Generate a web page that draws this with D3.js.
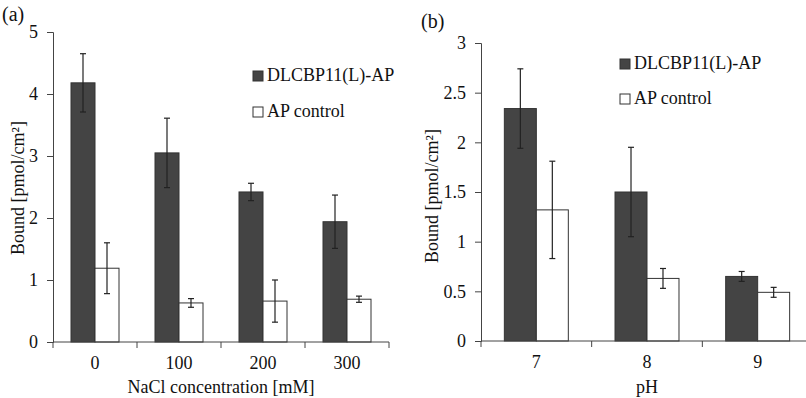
<!DOCTYPE html>
<html>
<head>
<meta charset="utf-8">
<script src="https://cdn.jsdelivr.net/npm/d3@7"></script>
<style>
  body { margin: 0; background: #fff; }
  svg text { font-family: "Liberation Serif", "DejaVu Serif", serif !important; fill: #111; }
</style>
</head>
<body>
<svg id="chart" width="806" height="398" font-family="Liberation Serif, serif"></svg>
<script>
// data
const series = ["DLCBP11(L)-AP", "AP control"];

const naclCats = ["0", "100", "200", "300"];
const naclDark = [4.18, 3.05, 2.42, 1.94];
const naclDarkErr = [0.47, 0.56, 0.14, 0.43];
const naclWhite = [1.19, 0.63, 0.66, 0.69];
const naclWhiteErr = [0.41, 0.07, 0.34, 0.05];
const naclTicks = [0, 1, 2, 3, 4, 5];

const phCats = ["7", "8", "9"];
const phDark = [2.34, 1.50, 0.65];
const phDarkErr = [0.40, 0.45, 0.05];
const phWhite = [1.32, 0.63, 0.49];
const phWhiteErr = [0.49, 0.10, 0.05];
const phTicks = [0, 0.5, 1, 1.5, 2, 2.5, 3];

const colors = ["#444", "#fff"];
const FONT = "Liberation Serif, serif";

const svg = d3.select("#chart");

function panel(opt) {
  const g = svg.append("g");

  const x0 = d3.scaleBand().domain(opt.cats).range([opt.left, opt.right]);
  const x1 = d3.scaleBand().domain(series).range([0, x0.bandwidth()]).paddingOuter(opt.pad);
  const y = d3.scaleLinear().domain([0, opt.ymax]).range([opt.bottom, opt.top]);

  const rows = opt.cats.map((c, i) => ({
    cat: c,
    vals: [
      { s: series[0], v: opt.dark[i], e: opt.darkErr[i] },
      { s: series[1], v: opt.white[i], e: opt.whiteErr[i] }
    ]
  }));

  // y axis
  const yAxis = g.append("g")
    .attr("transform", "translate(" + opt.left + ",0)")
    .call(d3.axisLeft(y).tickValues(opt.ticks).tickSize(6).tickPadding(9).tickFormat(d3.format("")));
  yAxis.attr("font-family", FONT);
  yAxis.select(".domain").attr("stroke", "#444");
  yAxis.selectAll(".tick line").attr("stroke", "#444");
  yAxis.selectAll("text").style("font-size", "18px").attr("fill", "#111");

  // bars
  const grp = g.selectAll(".cat").data(rows).enter().append("g")
    .attr("transform", d => "translate(" + x0(d.cat) + ",0)");

  grp.selectAll("rect").data(d => d.vals).enter().append("rect")
    .attr("x", d => x1(d.s))
    .attr("y", d => y(d.v))
    .attr("width", x1.bandwidth())
    .attr("height", d => y(0) - y(d.v))
    .attr("fill", (d, i) => colors[i])
    .attr("stroke", "#333")
    .attr("stroke-width", 1);

  // error bars
  const eb = grp.selectAll(".err").data(d => d.vals).enter().append("g");
  const cx = d => x1(d.s) + x1.bandwidth() / 2;
  eb.append("line")
    .attr("x1", cx).attr("x2", cx)
    .attr("y1", d => y(d.v + d.e)).attr("y2", d => y(d.v - d.e))
    .attr("stroke", "#222").attr("stroke-width", 1.2);
  [1, -1].forEach(sign => {
    eb.append("line")
      .attr("x1", d => cx(d) - 3).attr("x2", d => cx(d) + 3)
      .attr("y1", d => y(d.v + sign * d.e)).attr("y2", d => y(d.v + sign * d.e))
      .attr("stroke", "#222").attr("stroke-width", 1.2);
  });

  // x axis
  const xg = g.append("g").attr("transform", "translate(0," + opt.bottom + ")");
  xg.append("line")
    .attr("x1", opt.left).attr("x2", opt.right)
    .attr("stroke", "#444");
  const bounds = opt.cats.map(c => x0(c)).concat([opt.right]);
  xg.selectAll(".xt").data(bounds).enter().append("line")
    .attr("x1", d => d).attr("x2", d => d)
    .attr("y1", 0).attr("y2", 6)
    .attr("stroke", "#444");
  xg.selectAll(".xl").data(opt.cats).enter().append("text")
    .attr("x", d => x0(d) + x0.bandwidth() / 2)
    .attr("y", opt.labelY - opt.bottom)
    .attr("text-anchor", "middle")
    .attr("font-family", FONT)
    .style("font-size", "18px")
    .text(d => d);

  // titles
  g.append("text")
    .attr("x", (opt.left + opt.right) / 2)
    .attr("y", opt.titleY)
    .attr("text-anchor", "middle")
    .attr("font-family", FONT)
    .style("font-size", "18px")
    .text(opt.xTitle);

  g.append("text")
    .attr("transform", "translate(" + opt.yTitleX + "," + opt.yTitleY + ") rotate(-90)")
    .attr("text-anchor", "middle")
    .attr("font-family", FONT)
    .style("font-size", "18px")
    .text("Bound [pmol/cm²]");

  g.append("text")
    .attr("x", opt.tagX).attr("y", opt.tagY)
    .attr("font-family", FONT)
    .style("font-size", "20px")
    .text(opt.tag);

  // legend
  const lg = g.selectAll(".lg").data(series).enter().append("g")
    .attr("transform", (d, i) => "translate(" + opt.legX + "," + (opt.legY + i * opt.legGap) + ")");
  lg.append("rect")
    .attr("x", 0).attr("y", -10).attr("width", 10).attr("height", 10)
    .attr("fill", (d, i) => colors[i])
    .attr("stroke", "#333");
  lg.append("text")
    .attr("x", 14).attr("y", 0)
    .attr("font-family", FONT)
    .style("font-size", "18px")
    .text(d => d);
}

panel({
  cats: naclCats, dark: naclDark, darkErr: naclDarkErr, white: naclWhite, whiteErr: naclWhiteErr,
  ticks: naclTicks, ymax: 5, left: 53, right: 389, top: 32, bottom: 342, pad: 0.75,
  labelY: 369, xTitle: "NaCl concentration [mM]", titleY: 393,
  yTitleX: 24, yTitleY: 188, tag: "(a)", tagX: 2, tagY: 21,
  legX: 253, legY: 81, legGap: 36
});

panel({
  cats: phCats, dark: phDark, darkErr: phDarkErr, white: phWhite, whiteErr: phWhiteErr,
  ticks: phTicks, ymax: 3, left: 481, right: 813, top: 43, bottom: 341, pad: 0.73,
  labelY: 368, xTitle: "pH", titleY: 393,
  yTitleX: 438, yTitleY: 196, tag: "(b)", tagX: 421, tagY: 28,
  legX: 620, legY: 69, legGap: 35
});
</script>
</body>
</html>
